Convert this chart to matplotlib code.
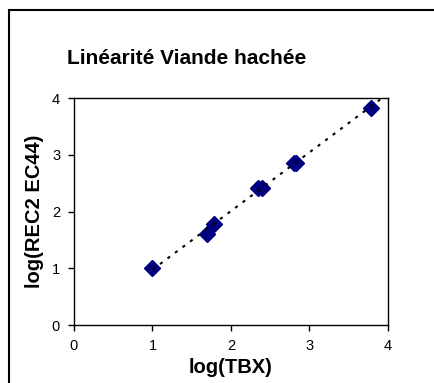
import numpy as np
import matplotlib.pyplot as plt
from matplotlib.patches import Rectangle

plt.rcParams['font.family'] = ['Liberation Sans', 'DejaVu Sans']

# data
log_tbx = [1.00, 1.69, 1.78, 2.35, 2.39, 2.80, 2.83, 3.78]
log_rec = [1.00, 1.61, 1.78, 2.42, 2.42, 2.86, 2.86, 3.83]
ticks = [0, 1, 2, 3, 4]

# linear trendline (Excel style, forecast a bit forward)
slope, icpt = np.polyfit(log_tbx, log_rec, 1)
x_fit = np.array([min(log_tbx), max(log_tbx) + 0.15])
y_fit = slope * x_fit + icpt

fig = plt.figure(figsize=(4.34, 3.83), dpi=100)
ax = fig.add_axes([0.1705, 0.1514, 0.7235, 0.5927])

ax.plot(x_fit, y_fit, color='black', lw=1.5, linestyle=(0, (1.5, 3)), zorder=3)
ax.plot(log_tbx, log_rec, linestyle='none', marker='D', ms=8,
        color='#000080', zorder=2)

ax.set_xlim(0, 4)
ax.set_ylim(0, 4)
ax.set_xticks(ticks)
ax.set_yticks(ticks)
ax.tick_params(direction='out', length=4, width=1, labelsize=10.5, pad=6)
for s in ax.spines.values():
    s.set_linewidth(1)
    s.set_color('black')

ax.set_xlabel('log(TBX)', fontsize=14.5, fontweight='bold', labelpad=4)
ax.set_ylabel('log(REC2 EC44)', fontsize=14.5, fontweight='bold', labelpad=6)
fig.text(0.155, 0.848, 'Linéarité Viande hachée', fontsize=15,
         fontweight='bold', va='center', ha='left')

# outer chart frame (cut by the image edges)
fig.add_artist(Rectangle((0.0207, -0.1), 1.2, 1.074, transform=fig.transFigure,
                         fill=False, edgecolor='black', lw=1.5))

fig.savefig('out.png', dpi=100)
